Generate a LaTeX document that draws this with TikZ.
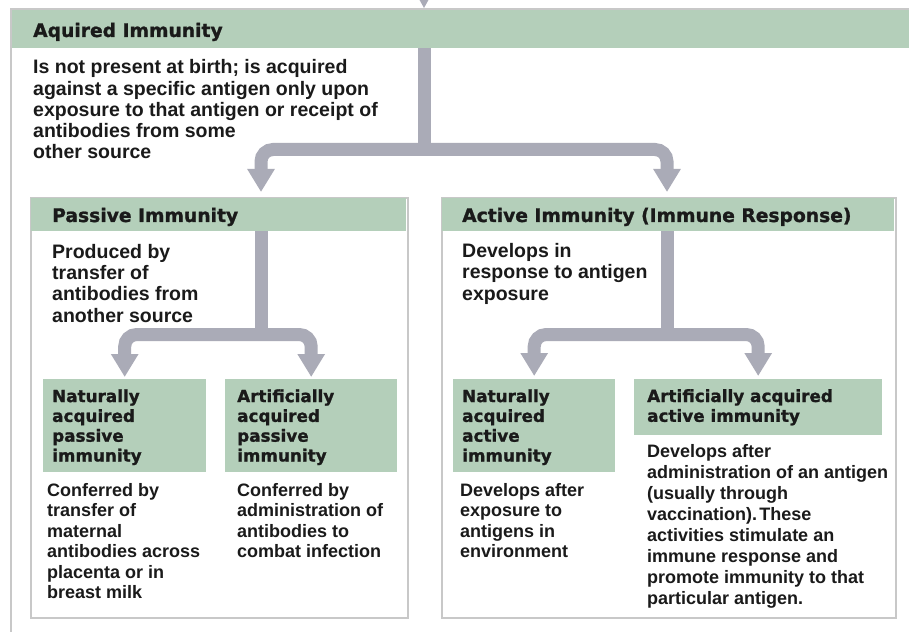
\documentclass[tikz,border=0pt]{standalone}
\usepackage{fontspec}
\usetikzlibrary{arrows.meta}
\setmainfont{Liberation Sans}
\newfontfamily\hfont{DejaVu Sans}[FakeBold=1.2]
\newfontfamily\bodyfont{Liberation Sans}
\definecolor{bandgreen}{RGB}{180,207,186}
\definecolor{arrgrey}{RGB}{170,171,183}
\definecolor{boxline}{RGB}{200,200,200}
\definecolor{txt}{RGB}{26,26,26}
\tikzset{
  frame/.style={draw=boxline, line width=1.6bp, fill=white},
  band/.style={fill=bandgreen, draw=none, inner sep=0, anchor=north west},
  subband/.style={fill=bandgreen, draw=none, inner sep=0, anchor=north west},
  htxt/.style={font=\hfont\bfseries\fontsize{18.7bp}{21bp}\selectfont, text=txt, anchor=base west, inner sep=0},
  shtxt/.style={font=\hfont\bfseries\fontsize{16.8bp}{19.8bp}\selectfont, text=txt, anchor=base west, inner sep=0, align=left},
  btxt/.style={font=\bodyfont\bfseries\fontsize{19.5bp}{21.3bp}\selectfont, text=txt, anchor=base west, inner sep=0, align=left},
  ctxt/.style={font=\bodyfont\bfseries\fontsize{18bp}{20.5bp}\selectfont, text=txt, anchor=base west, inner sep=0, align=left},
  rtxt/.style={font=\bodyfont\bfseries\fontsize{18bp}{21.1bp}\selectfont, text=txt, anchor=base west, inner sep=0, align=left},
  arrline/.style={draw=arrgrey, line width=13bp},
  arrboth/.style={draw=arrgrey, line width=13bp, rounded corners=12bp,
    {Triangle[width=26bp,length=23bp]}-{Triangle[width=26bp,length=23bp]}},
}
\begin{document}
\begin{tikzpicture}[x=1bp,y=-1bp]
\useasboundingbox (0,0) rectangle (909,632);
\clip (0,0) rectangle (909,632);
% outer frame
\draw[frame] (11,9) rectangle (940,660);
\node[band, minimum width=898bp, minimum height=38bp] (hdrA) at (11.8,9.8) {};
\draw[boxline, line width=1.6bp] (11,9) -- (909,9);
% top incoming arrow tip
\coordinate (topin) at (424,8);
\fill[arrgrey] (topin) -- ++(-5,-9) -- ++(10,0) -- cycle;
% (multi-line nodes are placed by the baseline of their last line)
\node[htxt] (tA) at (33,37) {Aquired Immunity};
\node[btxt] (bA) at (33,159) {Is not present at birth; is acquired\\against a specific antigen only upon\\exposure to that antigen or receipt of\\antibodies from some\\other source};

% passive and active boxes
\node[frame, inner sep=0, anchor=north west, minimum width=377bp, minimum height=420bp] (passive) at (30,197) {};
\node[band, minimum width=375.4bp, minimum height=33bp] (hdrP) at (30.8,197.8) {};
\node[frame, inner sep=0, anchor=north west, minimum width=454bp, minimum height=420bp] (active) at (441,197) {};
\node[band, minimum width=452.4bp, minimum height=33bp] (hdrC) at (441.8,197.8) {};
\node[htxt] (tP) at (52,222) {Passive Immunity};
\node[htxt] (tC) at (462,222) {Active Immunity (Immune Response)};
\node[btxt] (bP) at (52,322) {Produced by\\transfer of\\antibodies from\\another source};
\node[btxt] (bC) at (462,300) {Develops in\\response to antigen\\exposure};

% sub boxes
\node[subband, minimum width=163bp, minimum height=93bp] (nP) at (43,379) {};
\node[subband, minimum width=172bp, minimum height=93bp] (aP) at (225,379) {};
\node[subband, minimum width=162bp, minimum height=93bp] (nC) at (453,379) {};
\node[subband, minimum width=248bp, minimum height=56bp] (aC) at (634,379) {};
\node[shtxt] (tnP) at (52,461.5) {Naturally\\acquired\\passive\\immunity};
\node[shtxt] (taP) at (237,461.5) {Artificially\\acquired\\passive\\immunity};
\node[shtxt] (tnC) at (462,461.5) {Naturally\\acquired\\active\\immunity};
\node[shtxt] (taC) at (647,421.8) {Artificially acquired\\active immunity};
\node[ctxt] (dnP) at (47,598.5) {Conferred by\\transfer of\\maternal\\antibodies across\\placenta or in\\breast milk};
\node[ctxt] (daP) at (237,557.5) {Conferred by\\administration of\\antibodies to\\combat infection};
\node[ctxt] (dnC) at (460,557.5) {Develops after\\exposure to\\antigens in\\environment};
\node[rtxt] (daC) at (647,604.7) {Develops after\\administration of an antigen\\(usually through\\vaccination).\hspace{0.12em}These\\activities stimulate an\\immune response and\\promote immunity to that\\particular antigen.};

% connectors
\coordinate (jA) at (424,149.5);
\coordinate (pj) at (261,192);
\coordinate (cj) at (667,192);
\draw[arrline] (hdrA.south -| jA) -- (jA);
\draw[arrboth] (pj) |- (jA) -| (cj);

\coordinate (jP) at (261,334.5);
\coordinate (nPt) at (nP.north |- 0,377);
\coordinate (aPt) at (aP.north |- 0,377);
\draw[arrline] (hdrP.south -| jP) -- (jP);
\draw[arrboth] (nPt) |- (jP) -| (aPt);

\coordinate (jC) at (667,334.5);
\coordinate (nCt) at (nC.north |- 0,376);
\coordinate (aCt) at (aC.north |- 0,376);
\draw[arrline] (hdrC.south -| jC) -- (jC);
\draw[arrboth] (nCt) |- (jC) -| (aCt);
\end{tikzpicture}
\end{document}
